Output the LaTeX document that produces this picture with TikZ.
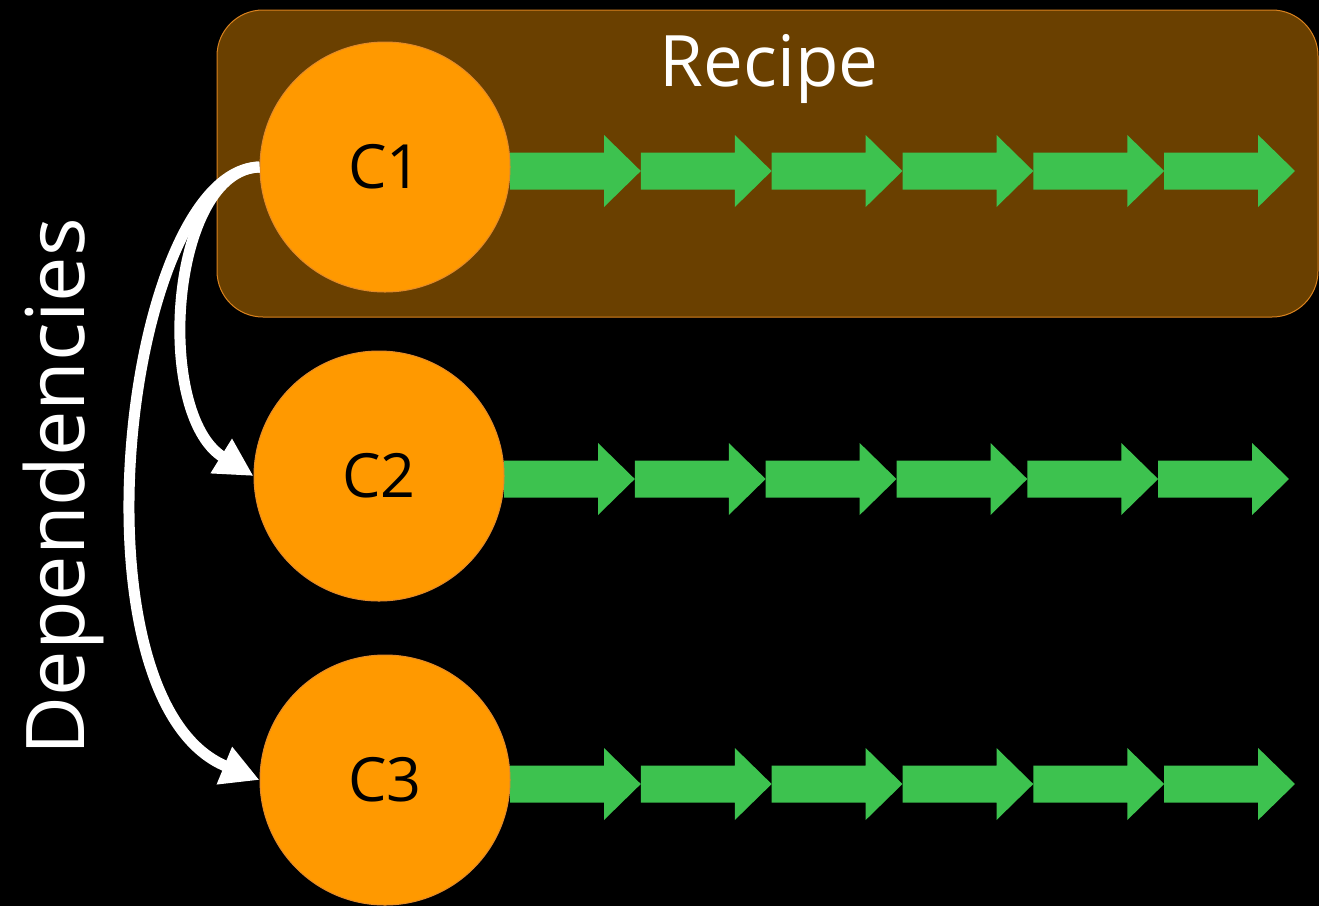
\documentclass[tikz,border=0pt]{standalone}
\usepackage{fontspec}
\setmainfont{Open Sans}
\usetikzlibrary{arrows.meta}
\definecolor{boxbrown}{HTML}{6A4000}
\definecolor{boxedge}{HTML}{D9821E}
\definecolor{corange}{HTML}{FF9900}
\definecolor{cedge}{HTML}{E38A2A}
\definecolor{arrowgreen}{HTML}{3DC24F}
\tikzset{
  recipebox/.style={draw=boxedge, line width=1pt, fill=boxbrown, rounded corners=46pt, inner sep=0pt},
  cnode/.style={circle, draw=cedge, line width=1pt, fill=corange, minimum size=250pt, inner sep=0pt, text=black, font=\fontsize{61}{70}\selectfont},
  deparrow/.style={draw=white, line width=11pt, -{Triangle[length=38pt,width=38pt]}},
  greenarrow/.pic={\fill[arrowgreen] (0,-18.5) -- (94,-18.5) -- (94,-36) -- (130.8,0) -- (94,36) -- (94,18.5) -- (0,18.5) -- cycle;}
}
\begin{document}
\begin{tikzpicture}[x=1pt,y=-1pt]
\fill[black] (0,0) rectangle (1319,906);
\useasboundingbox (0,0) rectangle (1319,906);
\node[recipebox, minimum width=1101pt, minimum height=307pt] (box) at (767.5,163.5) {};
\node[text=white, anchor=base, font=\fontsize{71}{80}\selectfont] (title) at (769,86) {Recipe};
\node[text=white, rotate=90, anchor=base west, font=\fontsize{81}{90}\selectfont] (dep) at (84,759) {Dependencies};
\foreach \i in {0,...,5} {
  \pic at ({510+130.83*\i},171) {greenarrow};
  \pic at ({504+130.83*\i},479) {greenarrow};
  \pic at ({510+130.83*\i},784) {greenarrow};
}
\node[cnode] (C1) at (385,167) {C1};
\node[cnode] (C2) at (379,476) {C2};
\node[cnode] (C3) at (385,780) {C3};
\draw[deparrow] (C1.west) .. controls +(-90,3) and +(-100,-62) .. (C2.west);
\draw[deparrow] (C1.west) .. controls +(-135,3) and +(-195,-80) .. (C3.west);
\end{tikzpicture}
\end{document}
